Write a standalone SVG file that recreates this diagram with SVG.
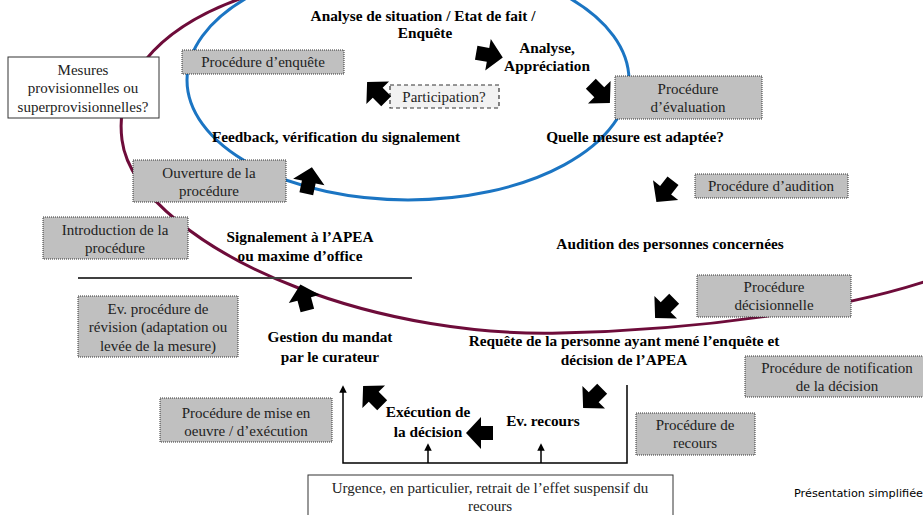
<svg xmlns="http://www.w3.org/2000/svg" xmlns:xlink="http://www.w3.org/1999/xlink" width="923" height="515" viewBox="0 0 923 515">
  <style>
    .lbl { font-family: "Liberation Serif", "Times New Roman", serif; font-weight: bold; font-size: 15.3px; text-anchor: middle; fill: #000; }
    .gray rect { fill: #c0c0c0; stroke: #333; stroke-width: 1; stroke-dasharray: 1 1; }
    .gray text, .plain text, .part text { font-family: "Liberation Serif", "Times New Roman", serif; font-size: 15px; text-anchor: middle; fill: #222; }
    .plain rect { fill: #fff; stroke: #333; stroke-width: 1; }
    .part rect { fill: #f2f2f2; stroke: #333; stroke-width: 1.2; stroke-dasharray: 4 3; }
    .blk { fill: #000; }
    .thin { fill: none; stroke: #000; stroke-width: 1.5; }
    .note { font-family: "DejaVu Sans", Verdana, sans-serif; font-size: 11.3px; fill: #000; }
  </style>
  <defs>
    <!-- chunky block arrow pointing along +x, centred on the origin -->
    <path id="blockArrow" d="M-13,-7 L-1,-7 L-1,-16 L14,0 L-1,16 L-1,7 L-13,7 Z"/>
    <marker id="tip" viewBox="0 0 8 8" refX="4" refY="4" markerWidth="5" markerHeight="5" orient="auto">
      <path d="M0,0 L8,4 L0,8 Z" fill="#000"/>
    </marker>
  </defs>

  <rect width="923" height="515" fill="#fff"/>

  <!-- phase loops -->
  <g id="loops">
    <ellipse cx="408" cy="80" rx="221" ry="120" fill="none" stroke="#1b75c3" stroke-width="3"/>
    <path d="M245,-3 C150,30 115,85 122,140 C129,195 205,252 296,287 C383,321 480,335 560,333 C700,330 840,310 930,280" fill="none" stroke="#6e0c3a" stroke-width="3"/>
  </g>

  <!-- separator under the reporting step -->
  <line x1="78" y1="278" x2="412" y2="278" stroke="#404040" stroke-width="2"/>

  <!-- stage labels -->
  <g id="n-analyse-situation"><text class="lbl" x="423" y="21">Analyse de situation / Etat de fait /</text><text class="lbl" x="425" y="38">Enquête</text></g>
  <g id="n-analyse"><text class="lbl" x="547" y="53">Analyse,</text><text class="lbl" x="547" y="71">Appréciation</text></g>
  <g id="n-feedback"><text class="lbl" x="336" y="142">Feedback, vérification du signalement</text></g>
  <g id="n-mesure"><text class="lbl" x="635" y="142">Quelle mesure est adaptée?</text></g>
  <g id="n-audition"><text class="lbl" x="670" y="249">Audition des personnes concernées</text></g>
  <g id="n-signalement"><text class="lbl" x="300" y="242">Signalement à l’APEA</text><text class="lbl" x="300" y="261">ou maxime d’office</text></g>
  <g id="n-gestion"><text class="lbl" x="330" y="342">Gestion du mandat</text><text class="lbl" x="330" y="362">par le curateur</text></g>
  <g id="n-requete"><text class="lbl" x="624" y="346">Requête de la personne ayant mené l’enquête et</text><text class="lbl" x="624" y="365">décision de l’APEA</text></g>
  <g id="n-execution"><text class="lbl" x="428" y="417">Exécution de</text><text class="lbl" x="428" y="437">la décision</text></g>
  <g id="n-recours"><text class="lbl" x="543" y="426">Ev. recours</text></g>

  <!-- procedure boxes -->
  <g id="p-enquete" class="gray"><rect x="182" y="50" width="162" height="24"/><text x="263" y="67">Procédure d’enquête</text></g>
  <g id="p-evaluation" class="gray"><rect x="615" y="76" width="147" height="43"/><text x="688" y="94">Procédure</text><text x="688" y="112">d’évaluation</text></g>
  <g id="p-audition" class="gray"><rect x="695" y="174" width="153" height="24"/><text x="771" y="191">Procédure d’audition</text></g>
  <g id="p-ouverture" class="gray"><rect x="133" y="160" width="153" height="42"/><text x="209" y="178">Ouverture de la</text><text x="209" y="196">procédure</text></g>
  <g id="p-introduction" class="gray"><rect x="43" y="217" width="145" height="42"/><text x="115" y="235">Introduction de la</text><text x="115" y="253">procédure</text></g>
  <g id="p-revision" class="gray"><rect x="78" y="296" width="160" height="61"/><text x="158" y="314">Ev. procédure de</text><text x="158" y="332">révision (adaptation ou</text><text x="158" y="351">levée de la mesure)</text></g>
  <g id="p-decision" class="gray"><rect x="697" y="275" width="154" height="42"/><text x="774" y="292">Procédure</text><text x="774" y="310">décisionnelle</text></g>
  <g id="p-notification" class="gray"><rect x="745" y="356" width="184" height="41"/><text x="837" y="373">Procédure de notification</text><text x="837" y="391">de la décision</text></g>
  <g id="p-recours" class="gray"><rect x="636" y="413" width="119" height="42"/><text x="695" y="430">Procédure de</text><text x="695" y="448">recours</text></g>
  <g id="p-execution" class="gray"><rect x="160" y="398" width="172" height="44"/><text x="246" y="418">Procédure de mise en</text><text x="246" y="436">oeuvre / d’exécution</text></g>

  <!-- other boxes -->
  <g id="b-mesures" class="plain"><rect x="8" y="57" width="151" height="61"/><text x="83" y="75">Mesures</text><text x="83" y="93">provisionnelles ou</text><text x="83" y="112">superprovisionnelles?</text></g>
  <g id="b-participation" class="part"><rect x="390" y="85" width="109" height="23"/><text x="444" y="102">Participation?</text></g>
  <g id="b-urgence" class="plain"><rect x="308" y="475" width="365" height="50"/><text x="490" y="493">Urgence, en particulier, retrait de l’effet suspensif du</text><text x="490" y="511">recours</text></g>

  <!-- connectors -->
  <g id="connectors">
    <use xlink:href="#blockArrow" class="blk" transform="translate(489,55) rotate(10)"/>
    <use xlink:href="#blockArrow" class="blk" transform="translate(600,93) rotate(45)"/>
    <use xlink:href="#blockArrow" class="blk" transform="translate(377,92) rotate(-135)"/>
    <use xlink:href="#blockArrow" class="blk" transform="translate(309,181) rotate(-78)"/>
    <use xlink:href="#blockArrow" class="blk" transform="translate(665,191) rotate(128)"/>
    <use xlink:href="#blockArrow" class="blk" transform="translate(665,308) rotate(135)"/>
    <use xlink:href="#blockArrow" class="blk" transform="translate(304,298) rotate(-105)"/>
    <use xlink:href="#blockArrow" class="blk" transform="translate(593,398) rotate(135)"/>
    <use xlink:href="#blockArrow" class="blk" transform="translate(480,433) rotate(180)"/>
    <use xlink:href="#blockArrow" class="blk" transform="translate(373,396) rotate(-135)"/>

    <!-- urgency bracket -->
    <path class="thin" d="M627,385 L627,463 L343,463 L343,389" marker-end="url(#tip)"/>
    <line class="thin" x1="428" y1="463" x2="428" y2="447" marker-end="url(#tip)"/>
    <line class="thin" x1="541" y1="463" x2="541" y2="447" marker-end="url(#tip)"/>
  </g>

  <text class="note" x="794" y="497">Présentation simplifiée</text>
</svg>
